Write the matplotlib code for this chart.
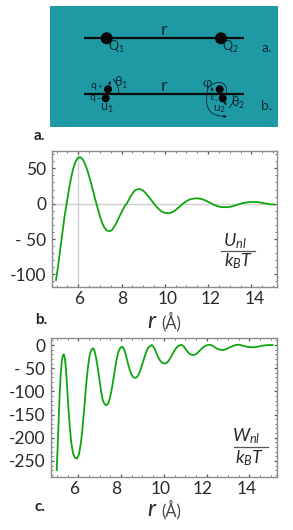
import matplotlib
matplotlib.use('Agg')
import matplotlib.pyplot as plt
from matplotlib.patches import Circle, FancyArrowPatch, Rectangle, PathPatch
from matplotlib.path import Path
from matplotlib.transforms import ScaledTranslation

plt.rcParams['font.family'] = ['Lato', 'DejaVu Sans']
plt.rcParams['mathtext.fontset'] = 'custom'
plt.rcParams['mathtext.rm'] = 'Lato'
plt.rcParams['mathtext.it'] = 'Lato:italic'

# values
r_u = [4.97, 5.05, 5.15, 5.25, 5.35, 5.46, 5.55, 5.65, 5.75, 5.85, 5.95, 6.08, 6.2, 6.3, 6.4, 6.5,
       6.6, 6.7, 6.8, 6.9, 7.0, 7.1, 7.2, 7.3, 7.44, 7.55, 7.65, 7.75, 7.85, 7.95, 8.05, 8.15,
       8.24, 8.35, 8.45, 8.55, 8.65, 8.81, 8.95, 9.05, 9.15, 9.3, 9.45, 9.55, 9.7, 9.85, 10.0, 10.17,
       10.35, 10.5, 10.65, 10.8, 10.9, 11.05, 11.2, 11.35, 11.53, 11.7, 11.85, 12.0, 12.15, 12.3, 12.45, 12.6,
       12.87, 13.05, 13.2, 13.4, 13.6, 13.8, 14.0, 14.23, 14.45, 14.65, 14.85, 15.05]
u_nl = [-108, -92, -68, -45, -21, 0, 17, 34, 48, 58, 64, 66, 63, 57, 49, 39,
        28, 16, 4, -7, -18, -27, -33.5, -37.5, -39, -37.5, -33, -28, -21.5, -15, -9, -3,
        0, 6.5, 12, 16.5, 19.5, 21, 19.5, 17, 13.5, 8, 2, -2, -7, -11, -13, -13.5,
        -12, -9, -5, -1, 1.5, 4.5, 6.5, 7.3, 7.5, 6.6, 5, 2.7, 0.3, -2, -3.7, -4.7,
        -5, -4.2, -3, -1, 0.8, 1.9, 2.4, 2.4, 1.6, 0.3, -0.7, -1.2]

r_w = [4.99, 5.03, 5.08, 5.13, 5.18, 5.23, 5.27, 5.32, 5.37, 5.42, 5.47, 5.53, 5.6, 5.67, 5.75, 5.84, 5.94,
       6.03, 6.12, 6.2, 6.28, 6.36, 6.44, 6.52, 6.6, 6.69, 6.76, 6.83, 6.9, 6.98, 7.06, 7.14, 7.22, 7.31,
       7.4, 7.48, 7.56, 7.64, 7.72, 7.8, 7.88, 7.96, 8.06, 8.14, 8.22, 8.3, 8.38, 8.46, 8.56, 8.68,
       8.78, 8.88, 8.98, 9.08, 9.18, 9.28, 9.43, 9.53, 9.63, 9.73, 9.83, 9.93, 10.05,
       10.17, 10.28, 10.4, 10.52, 10.64, 10.81, 10.93, 11.05, 11.17, 11.29, 11.41,
       11.55, 11.7, 11.85, 12.0, 12.17, 12.3, 12.45, 12.6, 12.78, 12.95, 13.15, 13.35, 13.52,
       13.7, 13.9, 14.18, 14.4, 14.6, 14.8, 15.08]
w_nl = [-270, -225, -165, -105, -62, -35, -24, -20, -28, -50, -85, -130, -175, -210, -233, -243, -245,
        -236, -212, -178, -135, -90, -52, -25, -11, -7, -13, -27, -47, -72, -98, -118, -127, -130,
        -126, -114, -96, -74, -50, -29, -14, -6, -3.6, -9, -21, -36, -50, -61, -69, -71,
        -67, -57, -43, -28, -14, -5, 0, -5, -15, -26, -34, -38.5, -40,
        -37, -30, -20, -10, -3, 0.7, -3, -11, -18, -21, -21.6,
        -18, -11, -4, -0.5, 0.7, -2, -7, -10, -10.8, -8, -3.5, 0, 0.7,
        -1.5, -4, -5, -3.5, -1.5, -0.3, 0]

x_ticks = [6, 8, 10, 12, 14]
u_ticks = [50, 0, -50, -100]
u_tick_labels = ['50', '0', '- 50', '-100']
w_ticks = [0, -50, -100, -150, -200, -250]
w_tick_labels = ['0', '- 50', '-100', '-150', '-200', '-250']

W, H = 293, 530
GREEN = '#10a510'
TEAL = '#1f9aa5'
FRAME = '#8c8c8c'
INK = '#2a2a2a'

fig = plt.figure(figsize=(W / 100, H / 100), dpi=100)


def axes_px(x0, y0, x1, y1):
    return fig.add_axes([x0 / W, 1 - y1 / H, (x1 - x0) / W, (y1 - y0) / H])


def style_axes(ax, xlim, ylim, yticks, ylabels, yminor, xoffs):
    ax.set_xlim(xlim)
    ax.set_ylim(ylim)
    ax.set_xticks(x_ticks)
    ax.set_xticklabels([str(t) for t in x_ticks])
    ax.set_yticks(yticks)
    ax.set_yticklabels(ylabels)
    ax.set_xticks([v / 2 for v in range(10, 31)], minor=True)
    ax.set_yticks(yminor, minor=True)
    ax.tick_params(which='major', direction='in', length=2.5, width=0.9, color='#555555',
                   top=True, right=True, labelsize=12.5, labelcolor=INK)
    ax.tick_params(which='minor', direction='in', length=1.4, width=0.7, color='#777777',
                   top=True, right=True)
    ax.tick_params(axis='x', which='major', pad=3)
    ax.tick_params(axis='y', which='major', pad=4)
    for s in ax.spines.values():
        s.set_color(FRAME)
        s.set_linewidth(1.0)
    for lab, off in zip(ax.get_xticklabels(), xoffs):
        lab.set_transform(lab.get_transform() + ScaledTranslation(off / 100, 0, fig.dpi_scale_trans))


# panel b
ax_u = axes_px(51.7, 150.7, 277.3, 286.7)
ax_u.axvline(6, color='#cfcfcf', lw=1.0, zorder=1)
ax_u.axhline(0, color='#cfcfcf', lw=1.0, zorder=1)
ax_u.plot(r_u, u_nl, color=GREEN, lw=1.3, zorder=3)
style_axes(ax_u, (4.77, 15.2), (-117.5, 75), u_ticks, u_tick_labels,
           list(range(-110, 80, 10)), [1, 0.7, 2.4, 2.6, 3])

# panel c
ax_w = axes_px(50.7, 337.7, 277.3, 476.7)
ax_w.plot(r_w, w_nl, color=GREEN, lw=1.3, zorder=3)
style_axes(ax_w, (4.71, 15.3), (-284, 15.8), w_ticks, w_tick_labels,
           list(range(-280, 20, 10)), [-4.3, -4.5, -3.6, -3.7, -2.3])

# overlay in pixel coordinates: schematic and free text
ov = fig.add_axes([0, 0, 1, 1], zorder=5)
ov.set_xlim(0, W)
ov.set_ylim(H, 0)
ov.axis('off')
ov.patch.set_alpha(0)

ov.add_patch(Rectangle((50, 5.7), 227.7, 121, color=TEAL, lw=0))
for y in (38.3, 93.7):
    ov.plot([84, 244], [y, y], color='#0c0c0c', lw=1.6, solid_capstyle='butt')
for cx, cy, rad in [(106.7, 38.3, 6), (221, 38.3, 6), (108, 89.3, 4), (105.7, 98.3, 4),
                    (219.7, 89.3, 4), (222.7, 98.3, 4)]:
    ov.add_patch(Circle((cx, cy), rad, color='#050505', lw=0, zorder=4))

dark = '#0c2a32'
for x, y, s, fs in [(164, 30, 'r', 13), (164, 85.7, 'r', 13), (266.7, 48.5, 'a.', 10), (266.7, 106, 'b.', 10),
                    (116.7, 46.7, 'Q$_1$', 9), (230.7, 46.7, 'Q$_2$', 9),
                    (96.7, 86.5, 'q$_+$', 7.5), (95.7, 98.8, 'q$_-$', 7.5), (106.7, 108.3, 'u$_1$', 9),
                    (120.7, 82.7, 'θ$_1$', 9), (206.7, 83.3, 'φ', 9), (211.5, 98, 'ℓ', 6),
                    (220, 109.5, 'u$_2$', 8.5), (237.7, 102.7, 'θ$_2$', 9)]:
    ov.text(x, y, s, ha='center', va='center', fontsize=fs, color=dark, zorder=6)

arrow_kw = dict(color='#10202a', lw=0.6, mutation_scale=4, zorder=5)
ov.add_patch(FancyArrowPatch((108, 89), (111, 78), arrowstyle='-|>', **arrow_kw))
ov.add_patch(PathPatch(Path([(119, 93.7), (119, 85), (113, 79)], [Path.MOVETO, Path.CURVE3, Path.CURVE3]),
                       fc='none', ec='#10202a', lw=0.6, zorder=5))
ov.add_patch(FancyArrowPatch((212, 92), (212, 87), arrowstyle='-|>', **arrow_kw))
ov.add_patch(FancyArrowPatch((218, 103), (216, 100), arrowstyle='-', **arrow_kw))
ov.add_patch(FancyArrowPatch((224, 100), (227, 108), arrowstyle='-|>', **arrow_kw))
ov.add_patch(PathPatch(Path([(233, 93.7), (235, 102), (229, 108)], [Path.MOVETO, Path.CURVE3, Path.CURVE3]),
                       fc='none', ec='#10202a', lw=0.6, zorder=5))
ov.add_patch(PathPatch(Path([(226, 93), (229, 80), (214, 80), (208, 88)],
                            [Path.MOVETO, Path.CURVE4, Path.CURVE4, Path.CURVE4]),
                       fc='none', ec='#10202a', lw=0.6, zorder=5))
ov.add_patch(FancyArrowPatch(path=Path([(208, 88), (203, 112), (212, 116), (227, 116.5)],
                                       [Path.MOVETO, Path.CURVE4, Path.CURVE4, Path.CURVE4]),
                             arrowstyle='-|>', **arrow_kw))

# panel letters
ov.text(39.5, 135.5, 'a.', fontsize=11, fontweight='bold', ha='center', va='center', color='#222222')
ov.text(41.7, 320, 'b.', fontsize=11, fontweight='bold', ha='center', va='center', color='#222222')
ov.text(40, 506.7, 'c.', fontsize=11, fontweight='bold', ha='center', va='center', color='#222222')

# axis titles
for y in (322, 510):
    ov.text(151.5, y, 'r', fontsize=17, fontstyle='italic', ha='center', va='center', color=INK)
    ov.text(171, y, '(Å)', fontsize=12, ha='center', va='center', color='#444444')

# fractions
ov.plot([220.7, 255], [251, 251], color='#555555', lw=0.9)
ov.text(235, 241, r'$U_{nl}$', fontsize=13, ha='center', va='center', color=INK)
ov.text(238.5, 261, r'$k_{B}T$', fontsize=13, ha='center', va='center', color=INK)

ov.plot([234, 267.7], [446.7, 446.7], color='#555555', lw=0.9)
ov.text(246, 436.5, r'$W_{nl}$', fontsize=13, ha='center', va='center', color=INK)
ov.text(250, 457.7, r'$k_{B}T$', fontsize=13, ha='center', va='center', color=INK)

fig.savefig('out.png', dpi=100)
